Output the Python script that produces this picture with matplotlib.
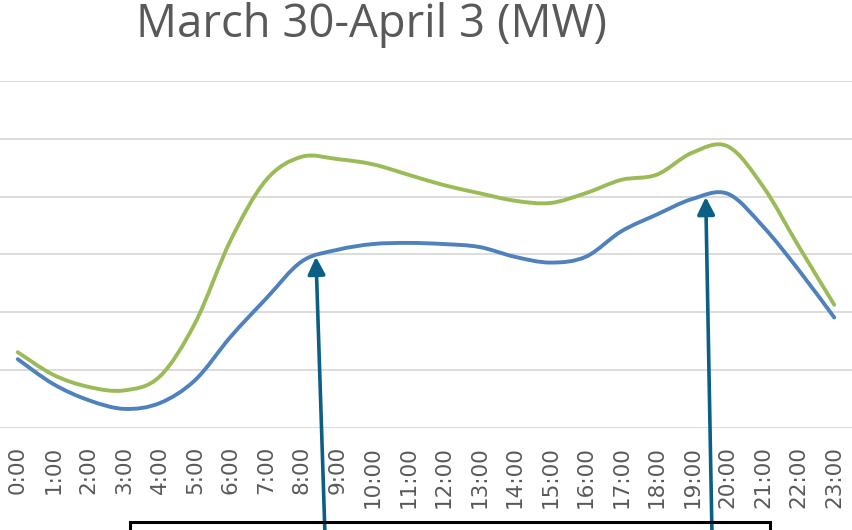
import numpy as np
import matplotlib
matplotlib.use("Agg")
import matplotlib.pyplot as plt
from matplotlib.path import Path
from matplotlib.patches import PathPatch, Rectangle

# hourly load, in gridline steps (the y axis has no labels)
hours = ["%d:00" % h for h in range(24)]
load_low = [1.19, 0.76, 0.48, 0.33, 0.43, 0.83, 1.58, 2.24, 2.88, 3.08, 3.18, 3.20,
            3.18, 3.13, 2.96, 2.86, 2.96, 3.40, 3.69, 3.96, 4.05, 3.48, 2.73, 1.91]
load_high = [1.31, 0.92, 0.71, 0.65, 0.89, 1.82, 3.25, 4.29, 4.69, 4.65, 4.56, 4.38,
             4.20, 4.06, 3.93, 3.89, 4.06, 4.29, 4.38, 4.76, 4.87, 4.17, 3.14, 2.13]
# where the two arrows point (hour position, on the lower series)
arrow_at = [8.4, 19.38]


def smooth_path(xs, ys):
    # excel-style smoothed line: cubic bezier through every point
    pts = np.column_stack([xs, ys]).astype(float)
    n = len(pts)
    verts = [pts[0]]
    codes = [Path.MOVETO]
    for i in range(n - 1):
        p0 = pts[max(i - 1, 0)]
        p1 = pts[i]
        p2 = pts[i + 1]
        p3 = pts[min(i + 2, n - 1)]
        c1 = p1 + (p2 - p0) / 6.0
        c2 = p2 - (p3 - p1) / 6.0
        verts += [c1, c2, p2]
        codes += [Path.CURVE4] * 3
    return Path(verts, codes)


fig = plt.figure(figsize=(8.52, 5.3), dpi=100)
ax = fig.add_axes([0, 0.1925, 1, 0.6547])

x = np.arange(len(hours))
ax.add_patch(PathPatch(smooth_path(x, load_high), fill=False, edgecolor="#9BBB59",
                       lw=2.8, capstyle="round", zorder=3))
ax.add_patch(PathPatch(smooth_path(x, load_low), fill=False, edgecolor="#4F81BD",
                       lw=2.8, capstyle="round", zorder=3))

ax.set_xlim(-0.5, 23.5)
ax.set_ylim(0, 6)
ax.set_yticks(range(7))
ax.set_yticklabels([])
ax.tick_params(axis="y", length=0)
ax.grid(axis="y", color="#d9d9d9", lw=1.3)
ax.set_axisbelow(True)
for s in ax.spines.values():
    s.set_visible(False)
ax.set_xticks(x)
ax.set_xticklabels(hours, rotation=90, fontsize=15.5, color="#595959",
                   family="DejaVu Sans", va="top")
ax.tick_params(axis="x", length=0, pad=13)

fig.text(0.4366, 0.93, "March 30-April 3 (MW)", ha="center", va="baseline",
         fontsize=32.8, color="#595959", family="Open Sans")

# box below the chart, only its top edge shows
fig.add_artist(Rectangle((130 / 852, -0.2), 640 / 852, 0.2 + 8 / 530,
                         transform=fig.transFigure, fill=False,
                         edgecolor="black", lw=2.2, clip_on=False))

starts = [325, 712]
for xa, x0 in zip(arrow_at, starts):
    ya = np.interp(xa, x, load_low)
    ax.annotate("", xy=(xa, ya), xycoords="data",
                xytext=(x0, -5), textcoords="figure pixels",
                arrowprops=dict(arrowstyle="-|>", color="#0B5F84", lw=2.6,
                                mutation_scale=26, shrinkA=0, shrinkB=0),
                annotation_clip=False, zorder=5)

fig.savefig("out.png", dpi=100)
